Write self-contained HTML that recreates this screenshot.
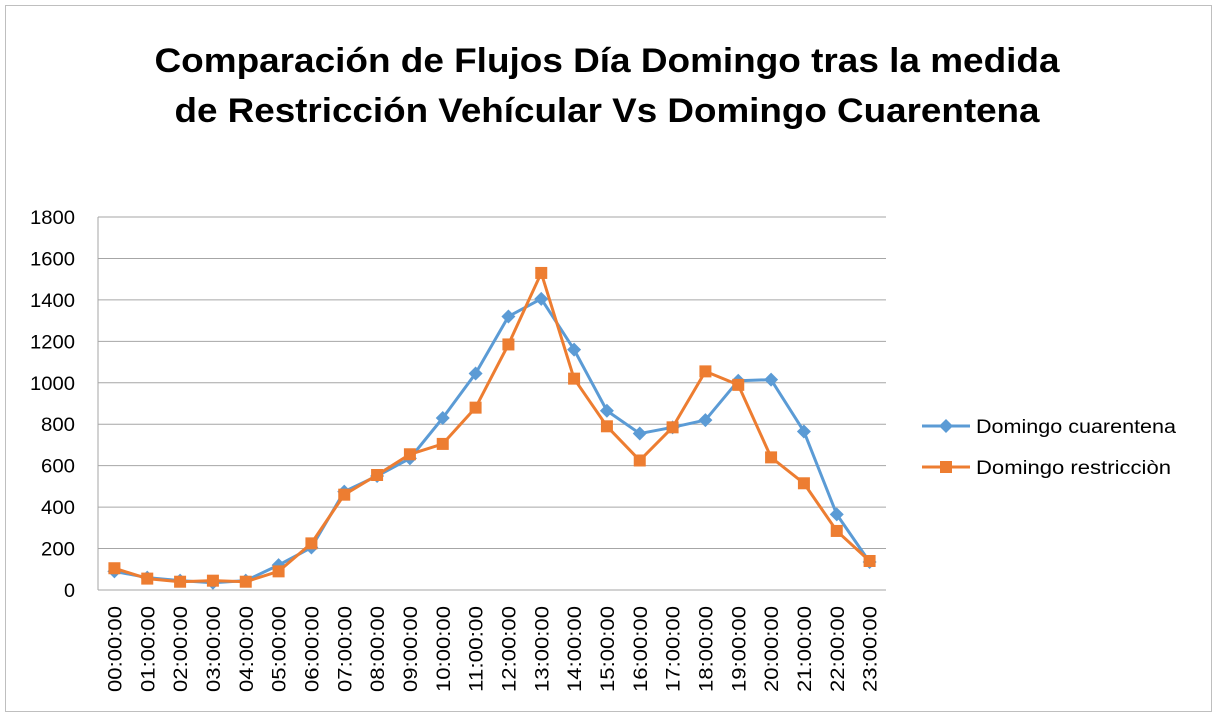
<!DOCTYPE html>
<html><head><meta charset="utf-8"><style>
body{margin:0;background:#fff}
svg{display:block;font-family:"Liberation Sans",Arial,sans-serif}
</style></head><body>
<svg width="1218" height="720" viewBox="0 0 1218 720" xmlns="http://www.w3.org/2000/svg">
<rect x="0" y="0" width="1218" height="720" fill="#fff"/>
<rect x="5.5" y="5.5" width="1206" height="706" fill="none" stroke="#bfbfbf"/>
<text x="607" y="72" text-anchor="middle" font-size="34" font-weight="bold" textLength="905" lengthAdjust="spacingAndGlyphs">Comparación de Flujos Día Domingo tras la medida</text>
<text x="607" y="122" text-anchor="middle" font-size="34" font-weight="bold" textLength="865" lengthAdjust="spacingAndGlyphs">de Restricción Vehícular Vs Domingo Cuarentena</text>
<g id="grid" stroke="#a6a6a6" stroke-width="1"></g>
<g id="ylab" font-size="19" text-anchor="end" fill="#000"></g>
<g id="xlab" font-size="19" fill="#000"></g>
<g id="series"></g>
<g font-size="19">
<line x1="922" y1="426" x2="970" y2="426" stroke="#5b9bd5" stroke-width="3"/>
<path d="M946 419 L953 426 L946 433 L939 426Z" fill="#5b9bd5"/>
<text x="976" y="433" textLength="200" lengthAdjust="spacingAndGlyphs">Domingo cuarentena</text>
<line x1="922" y1="467" x2="970" y2="467" stroke="#ed7d31" stroke-width="3"/>
<rect x="940" y="461" width="12" height="12" fill="#ed7d31"/>
<text x="976" y="474" textLength="195" lengthAdjust="spacingAndGlyphs">Domingo restricciòn</text>
</g>
</svg>
<script>
const ns="http://www.w3.org/2000/svg";
const X0=98,W=788,Y0=590,S=373/1800;
const g=document.getElementById('grid'),yl=document.getElementById('ylab'),xl=document.getElementById('xlab'),se=document.getElementById('series');
function el(p,t,a){const e=document.createElementNS(ns,t);for(const k in a)e.setAttribute(k,a[k]);p.appendChild(e);return e;}
for(let v=0;v<=1800;v+=200){const y=Y0-v*S;el(g,'line',{x1:X0,x2:X0+W,y1:y,y2:y});const t=el(yl,'text',{x:75,y:y+7,textLength:v>=1000?45:(v>0?34:11),lengthAdjust:'spacingAndGlyphs'});t.textContent=v;}
el(g,'line',{x1:X0,x2:X0,y1:Y0,y2:Y0-1800*S});
const dx=W/24;
for(let i=0;i<24;i++){const x=X0+(i+0.5)*dx+7;const t=el(xl,'text',{x:0,y:0,transform:`translate(${x},${Y0+16}) rotate(-90)`,'text-anchor':'end',textLength:86,lengthAdjust:'spacingAndGlyphs'});t.textContent=String(i).padStart(2,'0')+':00:00';}
const b=[90,60,45,35,45,120,205,475,550,635,830,1045,1320,1405,1160,865,755,785,820,1010,1015,765,365,135];
const o=[105,55,40,45,40,90,225,460,555,655,705,880,1185,1530,1020,790,625,785,1055,990,640,515,285,140];
function pts(d){return d.map((v,i)=>[X0+(i+0.5)*dx,Y0-v*S]);}
const pb=pts(b),po=pts(o);
el(se,'polyline',{points:pb.map(p=>p.join(',')).join(' '),fill:'none',stroke:'#5b9bd5','stroke-width':3,'stroke-linejoin':'round'});
pb.forEach(([x,y])=>el(se,'path',{d:`M${x} ${y-7}L${x+7} ${y}L${x} ${y+7}L${x-7} ${y}Z`,fill:'#5b9bd5'}));
el(se,'polyline',{points:po.map(p=>p.join(',')).join(' '),fill:'none',stroke:'#ed7d31','stroke-width':3,'stroke-linejoin':'round'});
po.forEach(([x,y])=>el(se,'rect',{x:x-6,y:y-6,width:12,height:12,fill:'#ed7d31'}));
</script>
</body></html>
